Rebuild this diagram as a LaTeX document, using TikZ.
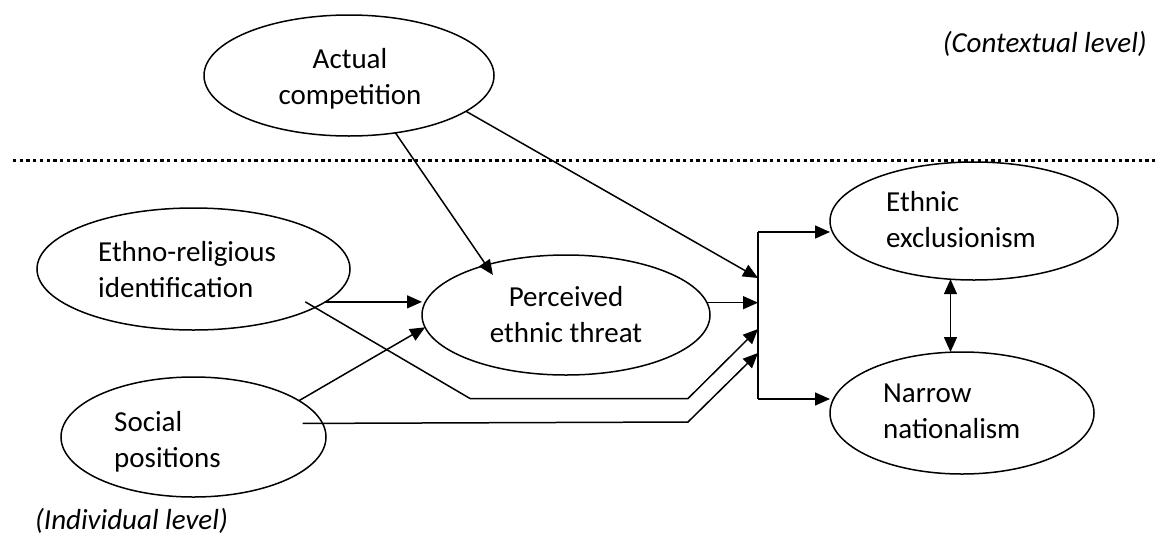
\documentclass[tikz,border=0pt]{standalone}
\usepackage{fontspec}
\setmainfont{Carlito}
\usetikzlibrary{shapes.geometric}
\usetikzlibrary{arrows.meta}

\begin{document}
\begin{tikzpicture}[x = 1pt, y = -1pt,
		blob/.style = {draw, ellipse, line width = 1.5pt, inner sep = 0pt, outer sep = 0pt},
		lbl/.style = {inner sep = 0pt, align = left, font = \fontsize{29}{35.5}\selectfont},
		lvl/.style = {inner sep = 0pt, font = \fontsize{29}{35.5}\selectfont\itshape},
		arr/.style = {-{Triangle[length = 15pt, width = 13pt]}, line width = 1.5pt},
		lnk/.style = {line width = 1.5pt}]
		\useasboundingbox (0,0) rectangle (1156,536);
		\draw[line width = 3pt, dash pattern = on 3.3pt off 3.4pt] (13,160) -- (1156,160);
		% ellipses
		\node[blob, minimum width = 290pt, minimum height = 121pt] (act) at (349,75.5) {};
		\node[blob, minimum width = 313pt, minimum height = 122pt] (eth) at (193.5,269) {};
		\node[blob, minimum width = 265pt, minimum height = 120pt] (soc) at (193.5,437) {};
		\node[blob, minimum width = 288pt, minimum height = 120pt] (per) at (566,315) {};
		\node[blob, minimum width = 288pt, minimum height = 118pt] (exc) at (974,221) {};
		\node[blob, minimum width = 264pt, minimum height = 122pt] (nar) at (962,413) {};
		% texts (base = last line)
		\node[lbl, anchor = base, align = center] (acttxt) at (350,104) {Actual\\competition};
		\node[lbl, anchor = base west] (ethtxt) at (98,297) {Ethno-religious\\identification};
		\node[lbl, anchor = base west] (soctxt) at (114,467) {Social\\positions};
		\node[lbl, anchor = base, align = center] (pertxt) at (566,342) {Perceived\\ethnic threat};
		\node[lbl, anchor = base west] (exctxt) at (886,247) {Ethnic\\exclusionism};
		\node[lbl, anchor = base west] (nartxt) at (883,438) {Narrow\\nationalism};
		\node[lvl, anchor = base east] (ctx) at (1147,52) {(Contextual level)};
		\node[lvl, anchor = base west] (ind) at (35,529) {(Individual level)};
		% junction
		\coordinate (jtop) at (758,232);
		\coordinate (jbot) at (758,399);
		\coordinate (inA) at (758,278);
		\coordinate (inE) at (758,329);
		\coordinate (inS) at (758,353);
		\coordinate (bendE) at (470,398.5);
		\coordinate (bendEb) at (688,398.5);
		\coordinate (bendS) at (688,422);
		% paths
		\draw[arr, shorten >= -12pt] (act.-51) -- (per.148);
		\draw[arr] (act.-17) -- (inA);
		\draw[arr] (eth.-14.7) -- (eth.-14.7 -| per.west);
		\draw[arr] (soc.19) -- (per.185);
		\draw[arr] (per.5) -- (per.5 -| jtop);
		\draw[arr] ([xshift = -20pt]eth.-14.7) -- (bendE) -- (bendEb) -- (inE);
		\draw[arr] ([xshift = -20pt]soc.6.6) -- (bendS) -- (inS);
		\draw[lnk] (jtop) -- (jbot);
		\draw[arr] (jtop) -- (exc.west |- jtop);
		\draw[arr] (jbot) -- (nar.west |- jbot);
		\draw[{Triangle[length = 15pt, width = 13pt]}-{Triangle[length = 15pt, width = 13pt]}, line width = 1.5pt] (exc.248) -- (exc.248 |- nar.north);
	\end{tikzpicture}
\end{document}
